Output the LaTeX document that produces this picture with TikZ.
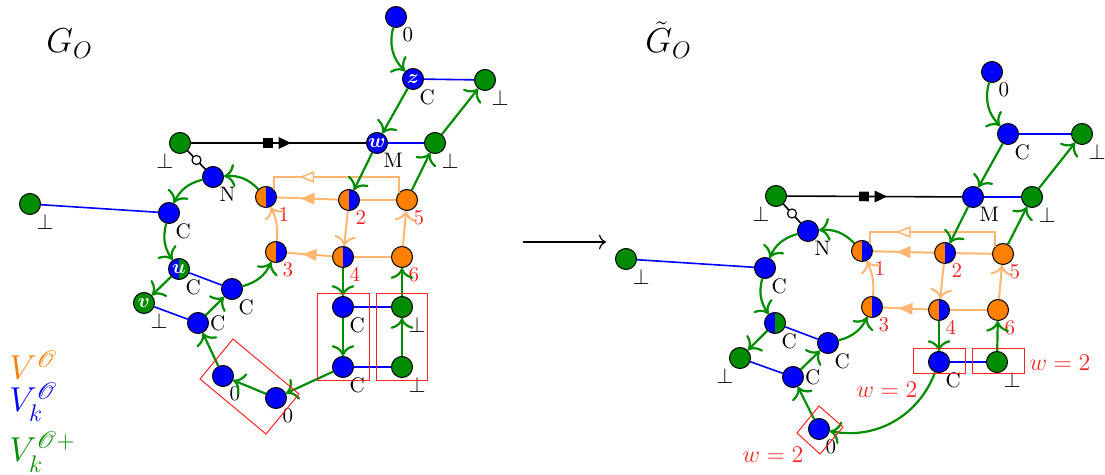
\documentclass[tikz,border=0pt]{standalone}
\usepackage{amsmath,bm,mathrsfs}
\usetikzlibrary{arrows.meta,decorations.markings}
\definecolor{vgreen}{RGB}{0,140,0}
\definecolor{vblue}{RGB}{0,0,255}
\definecolor{vorange}{RGB}{255,128,0}
\definecolor{eorange}{RGB}{255,182,115}
\definecolor{lred}{RGB}{250,35,35}
\tikzset{
  vtx/.style={circle,draw=black,line width=0.5pt,minimum size=10.5pt,inner sep=0pt,text=white},
  vb/.style={vtx,fill=vblue},
  vg/.style={vtx,fill=vgreen},
  vo/.style={vtx,fill=vorange},
  halves/.style 2 args={vtx,path picture={
     \fill[#1] (path picture bounding box.south west) rectangle (path picture bounding box.north);
     \fill[#2] (path picture bounding box.south) rectangle (path picture bounding box.north east);}},
  vob/.style={halves={vorange}{vblue}},
  vbg/.style={halves={vblue}{vgreen}},
  hole/.style={circle,draw=black,fill=white,line width=0.6pt,minimum size=4.5pt,inner sep=0pt},
  lbl/.style={inner sep=0.3pt,text=black,font=\fontsize{10.5}{12}\selectfont},
  lr/.style={label={[lbl,anchor=north west]-60:{#1}}},
  ll/.style={label={[lbl,anchor=north east]-120:{#1}}},
  le/.style={label={[lbl,anchor=west]0:{#1}}},
  nr/.style={label={[lbl,text=lred,anchor=north west]-60:{#1}}},
  gedge/.style={draw=vgreen,line width=1.1pt,-{To[scale=1.35]}},
  oedge/.style={draw=eorange,line width=1pt},
  oarr/.style={oedge,-{To[scale=1.35]}},
  otri/.style={postaction={decorate},decoration={markings,mark=at position #1 with
     {\fill[eorange] (3.5pt,0pt) -- (-3.5pt,3pt) -- (-3.5pt,-3pt) -- cycle;}}},
  oopen/.style={postaction={decorate},decoration={markings,mark=at position #1 with
     {\draw[eorange,line width=0.8pt,fill=white,line join=miter] (3pt,0pt) -- (-3pt,2.4pt) -- (-3pt,-2.4pt) -- cycle;}}},
  bedge/.style={draw=vblue,line width=0.8pt},
  kedge/.style={draw=black,line width=0.8pt},
  ktag/.style={postaction={decorate},decoration={markings,
     mark=at position 0.44 with {\fill (-2.4pt,-2.4pt) rectangle (2.4pt,2.4pt);},
     mark=at position 0.535 with {\fill (3.2pt,0pt) -- (-3pt,3pt) -- (-3pt,-3pt) -- cycle;}}},
  rbox/.style={draw=lred,line width=0.5pt},
  big/.style={anchor=base west,font=\LARGE,inner sep=0pt},
  wlab/.style={text=lred,inner sep=0pt,font=\large}
}
\begin{document}
\begin{tikzpicture}[x=0.5pt,y=-0.5pt]
\useasboundingbox (0,0) rectangle (1105,475);

% titles and legend
\node[big] (tL) at (46,53) {$G_O$};
\node[big] (tR) at (645,53) {$\tilde G_O$};
\node[big,text=vorange] (k1) at (9,380) {$V^{\mathscr{O}}$};
\node[big,text=vblue] (k2) at (9,412) {$V_k^{\mathscr{O}}$};
\node[big,text=vgreen] (k3) at (9,462) {$V_k^{\mathscr{O}+}$};

% ---------------- left graph ----------------
\node[vb,lr=0] (L0) at (396,17) {};
\node[vb,lr=C] (Lz) at (413,79) {$\bm{z}$};
\node[vg,lr=$\perp$] (Lzb) at (485,80) {};
\node[vb,lr=M] (Lw) at (377,143) {$\bm{w}$};
\node[vg,lr=$\perp$] (Lwb) at (435,143) {};
\node[vg,ll=$\perp$] (Lt) at (180,143) {};
\node[vb,lr=N] (LN) at (213,177) {};
\node[vob,nr=\hspace{3pt}1] (L1) at (266,197) {};
\node[vob,nr=2] (L2) at (349,200) {};
\node[vo,nr=5] (L5) at (407,200) {};
\node[vob,nr=3] (L3) at (276,252) {};
\node[vob,nr=4] (L4) at (343,257) {};
\node[vo,nr=6] (L6) at (402,257) {};
\node[vb,lr=C] (LC1) at (169,213) {};
\node[vg,lr=$\perp$] (Lfar) at (30,204) {};
\node[vbg,lr=C] (Lu) at (179,269) {$\bm{u}$};
\node[vg,lr=$\perp$] (Lv) at (144,303) {$\bm{v}$};
\node[vb,lr=C] (LC2) at (232,289) {};
\node[vb,le=C] (LC3) at (198,323) {};
\node[vb,lr=0] (La) at (223,376) {};
\node[vb,lr=0] (Lb) at (276,398) {};
\node[vb,lr=C] (LC4) at (343,307) {};
\node[vb,lr=C] (LC5) at (343,367) {};
\node[vg,lr=$\perp$] (Lp) at (402,307) {};
\node[vg,lr=$\perp$] (Lq) at (402,367) {};

% black links
\draw[kedge,ktag] (Lt) -- (Lw);
\draw[kedge] (Lt) -- node[hole] (Lhole) {} (LN);
% blue links
\draw[bedge] (Lz) -- (Lzb);
\draw[bedge] (Lw) -- (Lwb);
\draw[bedge] (LC1) -- (Lfar);
\draw[bedge] (Lu) -- (LC2);
\draw[bedge] (Lv) -- (LC3);
\draw[bedge] (LC4) -- (Lp);
\draw[bedge] (LC5) -- (Lq);
% orange links
\draw[oedge,otri=0.5] (L2) -- (L1);
\draw[oedge] (L2) -- (L5);
\draw[oedge,oopen=0.7] (L5.140) -- (L5.140 |- 0,177) -- (L1.40 |- 0,177) -- (L1.40);
\draw[oarr] (L3) to[bend right=15] (L1);
\draw[oarr] (L2) -- (L4);
\draw[oarr] (L6) -- (L5);
\draw[oedge,otri=0.5] (L4) -- (L3);
\draw[oedge] (L4) -- (L6);
% green arcs
\draw[gedge] (L0) to[bend right=30] (Lz);
\draw[gedge] (Lz) -- (Lw);
\draw[gedge] (Lw) -- (L2);
\draw[gedge] (L5) -- (Lwb);
\draw[gedge] (Lwb) -- (Lzb);
\draw[gedge] (L1) to[bend right=25] (LN);
\draw[gedge] (LN) to[bend right=25] (LC1);
\draw[gedge] (LC1) to[bend right=25] (Lu);
\draw[gedge] (Lu) -- (Lv);
\draw[gedge] (LC3) -- (LC2);
\draw[gedge] (LC2) to[bend right=25] (L3);
\draw[gedge] (La) -- (LC3);
\draw[gedge] (Lb) -- (La);
\draw[gedge] (LC5) -- (Lb);
\draw[gedge] (L4) -- (LC4);
\draw[gedge] (LC4) -- (LC5);
\draw[gedge] (Lq) -- (Lp);
\draw[gedge] (Lp) -- (L6);
% red groupings
\draw[rbox] (200,379) -- (233,339) -- (299,394) -- (266,434) -- cycle;
\draw[rbox] (317,294) rectangle (369,381);
\draw[rbox] (376,294) rectangle (427,381);

% transformation arrow
\coordinate (m1) at (523,242);
\coordinate (m2) at (606,242);
\draw[line width=0.6pt,-{To[scale=1.2]}] (m1) -- (m2);

% ---------------- right graph ----------------
\node[vb,lr=0] (R0) at (992,72) {};
\node[vb,lr=C] (RC) at (1008,134) {};
\node[vg,lr=$\perp$] (Rcb) at (1082,134) {};
\node[vb,lr=M] (RM) at (973,197) {};
\node[vg,lr=$\perp$] (Rmb) at (1032,197) {};
\node[vg,ll=$\perp$] (Rt) at (776,196) {};
\node[vb,lr=N] (RN) at (808,231) {};
\node[vob,nr=\hspace{3pt}1] (R1) at (862,251) {};
\node[vob,nr=2] (R2) at (945,253) {};
\node[vo,nr=5] (R5) at (1003,254) {};
\node[vob,nr=3] (R3) at (872,307) {};
\node[vob,nr=4] (R4) at (939,310) {};
\node[vo,nr=6] (R6) at (998,310) {};
\node[vb,lr=C] (RC1) at (765,268) {};
\node[vg,lr=$\perp$] (Rfar) at (626,259) {};
\node[vbg,lr=C] (Ru) at (775,323) {};
\node[vg,ll=$\perp$] (Rv) at (740,358) {};
\node[vb,lr=C] (RC2) at (828,343) {};
\node[vb,le=C] (RC3) at (793,377) {};
\node[vb,lr=0] (Ra) at (819,429) {};
\node[vb,lr=C] (RC4) at (939,362) {};
\node[vg,lr=$\perp$] (Rp) at (997,362) {};

% black links
\draw[kedge,ktag] (Rt) -- (RM);
\draw[kedge] (Rt) -- node[hole] (Rhole) {} (RN);
% blue links
\draw[bedge] (RC) -- (Rcb);
\draw[bedge] (RM) -- (Rmb);
\draw[bedge] (RC1) -- (Rfar);
\draw[bedge] (Ru) -- (RC2);
\draw[bedge] (Rv) -- (RC3);
\draw[bedge] (RC4) -- (Rp);
% orange links
\draw[oedge,otri=0.5] (R2) -- (R1);
\draw[oedge] (R2) -- (R5);
\draw[oedge,oopen=0.7] (R5.140) -- (R5.140 |- 0,232) -- (R1.40 |- 0,232) -- (R1.40);
\draw[oarr] (R3) to[bend right=15] (R1);
\draw[oarr] (R2) -- (R4);
\draw[oarr] (R6) -- (R5);
\draw[oedge,otri=0.5] (R4) -- (R3);
\draw[oedge] (R4) -- (R6);
% green arcs
\draw[gedge] (R0) to[bend right=30] (RC);
\draw[gedge] (RC) -- (RM);
\draw[gedge] (RM) -- (R2);
\draw[gedge] (R5) -- (Rmb);
\draw[gedge] (Rmb) -- (Rcb);
\draw[gedge] (R1) to[bend right=25] (RN);
\draw[gedge] (RN) to[bend right=25] (RC1);
\draw[gedge] (RC1) to[bend right=25] (Ru);
\draw[gedge] (Ru) -- (Rv);
\draw[gedge] (RC3) -- (RC2);
\draw[gedge] (RC2) to[bend right=25] (R3);
\draw[gedge] (Ra) -- (RC3);
\draw[gedge] (RC4) to[bend left=40] (Ra);
\draw[gedge] (R4) -- (RC4);
\draw[gedge] (Rp) -- (R6);
% red groupings and weights
\draw[rbox] (797,433) -- (819,406) -- (843,427) -- (820,454) -- cycle;
\draw[rbox] (913,349) rectangle (965,374);
\draw[rbox] (972,349) rectangle (1024,374);
\node[wlab] (w1) at (773,455) {$w=2$};
\node[wlab] (w2) at (887,390) {$w=2$};
\node[wlab] (w3) at (1060,363) {$w=2$};
\end{tikzpicture}
\end{document}
